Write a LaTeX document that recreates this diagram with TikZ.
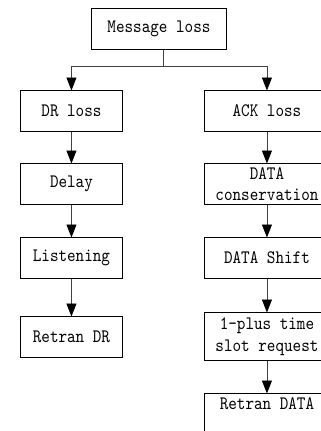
\documentclass[tikz,border=0pt]{standalone}
\usepackage{fontspec}
\newfontfamily\boxfont[FakeStretch=0.86]{lmmono10-regular.otf}
\usetikzlibrary{arrows.meta}
\tikzset{
  box/.style={draw=black, line width=0.9pt, inner sep=0pt, align=center,
    font=\boxfont\fontsize{19}{21.5}\selectfont, anchor=north west},
  conn/.style={draw=black!75, line width=0.9pt},
  arr/.style={conn, -{Triangle[length=13pt, width=10pt, color=black]}, shorten >=-0.5pt}
}
\begin{document}
\begin{tikzpicture}[x=1pt, y=-1pt]
\clip (0,0) rectangle (321,431);
\fill[white] (0,0) rectangle (321,431);
% left column
\node[box, minimum width=135pt, minimum height=41pt] (msg) at (91,8) {Message loss};
\node[box, minimum width=102pt, minimum height=41pt] (dr) at (20,90) {DR loss};
\node[box, minimum width=102pt, minimum height=41pt] (delay) at (20,163) {Delay};
\node[box, minimum width=102pt, minimum height=41pt] (listen) at (20,237) {Listening};
\node[box, minimum width=102pt, minimum height=41pt] (retdr) at (20,316) {Retran DR};
% right column
\node[box, minimum width=125pt, minimum height=41pt] (ack) at (204,90) {ACK loss};
\node[box, minimum width=125pt, minimum height=41pt] (cons) at (204,163) {DATA\\conservation};
\node[box, minimum width=125pt, minimum height=41pt] (shift) at (204,237) {DATA Shift};
\node[box, minimum width=125pt, minimum height=48pt] (plus) at (204,312) {1-plus time\\slot request};
\node[box, minimum width=125pt, minimum height=44pt] (retdata) at (204,393) {Retran DATA\\[-4pt]\strut};
% connectors
\coordinate (j) at (163,66);
\draw[conn] (j |- msg.south) -- (j);
\draw[arr] (j) -| (dr.north);
\draw[arr] (j) -| (ack.north);
\draw[arr] (dr) -- (delay);
\draw[arr] (delay) -- (listen);
\draw[arr] (listen) -- (retdr);
\draw[arr] (ack) -- (cons);
\draw[arr] (cons) -- (shift);
\draw[arr] (shift) -- (plus);
\draw[arr] (plus) -- (retdata);
\end{tikzpicture}
\end{document}
